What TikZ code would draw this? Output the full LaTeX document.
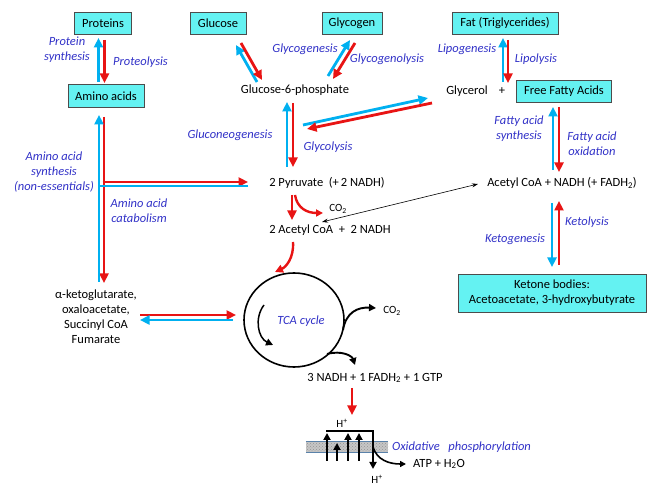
\documentclass[tikz,border=0pt]{standalone}
\usepackage{fontspec}
\setmainfont{Carlito}
\usetikzlibrary{arrows.meta,calc,shapes.geometric,patterns}
\definecolor{boxfill}{RGB}{100,242,242}
\definecolor{arrblue}{RGB}{0,176,240}
\definecolor{arrred}{RGB}{232,20,20}
\definecolor{lblblue}{RGB}{50,50,200}
\definecolor{memline}{RGB}{90,130,170}
\begin{document}
\begin{tikzpicture}[x=1pt,y=-1pt,
  txt/.style={font=\fontsize{12.5}{15}\selectfont, inner sep=0, align=center},
  box/.style={txt, draw=black!70, fill=boxfill, line width=0.9pt, minimum height=22},
  lbl/.style={txt, text=lblblue, font=\fontsize{12.5}{14.8}\selectfont\itshape},
  smalltxt/.style={txt, font=\fontsize{11}{13}\selectfont},
  thickarrow/.style={line width=2.8pt, -{Triangle[length=9.5pt,width=9pt]}},
  barr/.style={thickarrow, draw=arrblue},
  rarr/.style={thickarrow, draw=arrred},
  karr/.style={line width=1.9pt, -{Triangle[length=7pt,width=7pt]}},
]
\fill[white] (0,0) rectangle (649,502);
\useasboundingbox (0,0) rectangle (649,502);

% boxes
\node[box, minimum width=57] (prot) at (103,23) {Proteins};
\node[box, minimum width=56] (gluc) at (218,23) {Glucose};
\node[box, minimum width=60] (glyc) at (352,23) {Glycogen};
\node[box, minimum width=106] (fat) at (505,23) {Fat (Triglycerides)};
\node[box, minimum width=76, minimum height=23] (amino) at (106,96) {Amino acids};
\node[box, minimum width=95] (ffa) at (564,91) {Free Fatty Acids};
\node[box, minimum width=188, minimum height=38] (ket) at (552,293) {Ketone bodies:\\Acetoacetate, 3-hydroxybutyrate};

% plain texts
\node[txt] (g6p) at (295,90) {Glucose-6-phosphate};
\node[txt] (glycerol) at (467,91) {Glycerol};
\node[txt] (plus) at (502,91) {+};
\node[txt] (pyr) at (327,183) {2 Pyruvate\ \ (+\,2 NADH)};
\node[txt] (acoa) at (562,183) {Acetyl CoA + NADH (+ FADH\textsubscript{2})};
\node[smalltxt] (co2a) at (338,209) {CO\textsubscript{2}};
\node[txt] (acetyl) at (330,230) {2 Acetyl CoA\ \ +\ \ 2 NADH};
\node[txt] (akg) at (96,317) {α-ketoglutarate,\\oxaloacetate,\\Succinyl CoA\\Fumarate};
\node[draw, ellipse, minimum width=100, minimum height=94, line width=1.6pt, inner sep=0] (tca) at (294,320) {};
\node[smalltxt] (co2b) at (392,311) {CO\textsubscript{2}};
\node[txt] (nadh3) at (375,378) {3 NADH + 1 FADH\textsubscript{2} + 1 GTP};
\node[smalltxt] (h1) at (342,423) {H\textsuperscript{+}};
\node[smalltxt] (h2) at (377,479) {H\textsuperscript{+}};
\node[txt] (atp) at (439,464) {ATP + H\textsubscript{2}O};

% labels
\node[lbl] (lps) at (67,50) {Protein\\synthesis};
\node[lbl, anchor=west] (lpl) at (113,62) {Proteolysis};
\node[lbl] (lgg) at (305,49) {Glycogenesis};
\node[lbl] (lgl) at (387,59) {Glycogenolysis};
\node[lbl] (lgn) at (230,135) {Gluconeogenesis};
\node[lbl] (lgy) at (328,147) {Glycolysis};
\node[lbl] (llg) at (467,49) {Lipogenesis};
\node[lbl] (lll) at (536,59) {Lipolysis};
\node[lbl] (lfs) at (519,129) {Fatty acid\\synthesis};
\node[lbl] (lfo) at (592,144) {Fatty acid\\oxidation};
\node[lbl] (las) at (54,172) {Amino acid\\synthesis\\(non-essentials)};
\node[lbl] (lac) at (139,211) {Amino acid\\catabolism};
\node[lbl] (lkl) at (587,222) {Ketolysis};
\node[lbl] (lkg) at (515,239) {Ketogenesis};
\node[lbl] (ltca) at (301,321) {TCA cycle};
\node[lbl, anchor=west] (lox) at (392,447) {Oxidative\ \ \ phosphorylation};

% proteins / amino acids
\draw[barr] ($(amino)+(-7.5,-14)$) -- ($(prot)+(-4.5,15)$);
\draw[rarr] ($(prot)+(1.5,17)$) -- ($(amino)+(-1.5,-13)$);
% glucose
\draw[barr] ($(g6p)+(-38,-8)$) -- ($(gluc)+(18,22)$);
\draw[rarr] ($(gluc)+(23,20)$) -- ($(g6p)+(-33,-10)$);
% glycogen
\draw[barr] ($(g6p)+(33,-14)$) -- ($(glyc)+(-2,17)$);
\draw[rarr] ($(glyc)+(3,20)$) -- ($(g6p)+(38,-11)$);
% g6p / pyruvate
\draw[barr] ($(pyr)+(-40,-16)$) -- ($(g6p)+(-8,12)$);
\draw[rarr] ($(g6p)+(-2,13)$) -- ($(pyr)+(-34,-16)$);
% glycerol
\draw[barr] ($(g6p)+(8,35)$) -- ($(glycerol)+(-39,7)$);
\draw[rarr] ($(glycerol)+(-35,12)$) -- ($(g6p)+(12,39)$);
% fat
\draw[barr] ($(plus)+(1,-9)$) -- ($(fat)+(-2,15)$);
\draw[rarr] ($(fat)+(3,17)$) -- ($(plus)+(6,-8)$);
% ffa / acetyl coa
\draw[barr] ($(acoa)+(-9,-13)$) -- ($(ffa)+(-11,16)$);
\draw[rarr] ($(ffa)+(-5,16)$) -- ($(acoa)+(-3,-11)$);
% ketone
\draw[barr] ($(acoa)+(-10,20)$) -- ($(ket)+(0,-26)$);
\draw[rarr] ($(ket)+(7,-28)$) -- ($(acoa)+(-3,18)$);
% amino acids / pyruvate / akg
\draw[rarr] ($(amino)+(-2,21)$) -- ($(akg)+(8,-34)$);
\draw[rarr] ($(amino)+(-3.4,86)$) -- ($(pyr)+(-79,-1)$);
\draw[line width=2.8pt, draw=arrblue] ($(pyr)+(-79,3)$) -- ($(amino)+(-8.4,90)$);
\draw[barr] ($(akg)+(3,-35)$) -- ($(amino)+(-7,19)$);
% akg / tca
\draw[rarr] ($(akg)+(44,-2)$) -- ($(tca)+(-58,-5)$);
\draw[barr] ($(tca)+(-61,0)$) -- ($(akg)+(44,3)$);
% pyruvate -> acetyl CoA
\draw[rarr] ($(pyr)+(-35,12)$) -- ($(acetyl)+(-38,-10)$);
\draw[draw=arrred, line width=2.4pt, -{Triangle[length=7pt,width=7pt]}] ($(pyr)+(-32,12)$) .. controls ($(pyr)+(-30,25)$) and ($(pyr)+(-20,30)$) .. ($(co2a)+(-15,4)$);
\draw[line width=0.6pt, {Stealth[length=6pt,width=4pt]}-{Stealth[length=6pt,width=4pt]}] ($(acetyl)+(-8,-8)$) -- ($(acoa)+(-84,1)$);
\draw[draw=arrred, line width=2.4pt, -{Triangle[length=8pt,width=8pt]}] ($(acetyl)+(-37,12)$) .. controls ($(acetyl)+(-36,28)$) and ($(acetyl)+(-44,37)$) .. ($(tca)+(-19,-48)$);
% tca arrows
\draw[karr] ($(tca)+(49,10)$) .. controls ($(tca)+(52,-8)$) and ($(tca)+(64,-13)$) .. ($(co2b)+(-16,-3)$);
\draw[karr] ($(tca)+(33,34)$) .. controls ($(tca)+(48,30)$) and ($(tca)+(58,36)$) .. ($(nadh3)+(-20,-13)$);
\draw[karr, line width=1.5pt] ($(tca)+(-30,-15)$) .. controls ($(tca)+(-40,-2)$) and ($(tca)+(-36,18)$) .. ($(tca)+(-21,25)$);
% oxidative phosphorylation
\draw[rarr] ($(nadh3)+(-23,10)$) -- ($(h1)+(10,-8)$);
\node[minimum width=82, minimum height=10, inner sep=0, fill=gray!45, postaction={pattern=crosshatch dots, pattern color=gray!85}] (mem) at (347,447) {};
\draw[memline, line width=0.7pt] (mem.north west) -- (mem.north east) (mem.south west) -- (mem.south east);
\draw[karr] ($(mem)+(-20,14)$) -- ($(mem)+(-20,-14)$);
\draw[karr] ($(mem)+(-10,14)$) -- ($(mem)+(-10,-4)$);
\draw[karr] ($(mem)+(1,14)$) -- ($(mem)+(1,-14)$);
\draw[karr] ($(mem)+(12,14)$) -- ($(mem)+(12,-14)$);
\draw[karr, line join=miter] ($(mem)+(-20.95,-16)$) -- ($(mem)+(26,-16)$) -- ($(h2)+(-4,-10)$);
\draw[line width=1.6pt, -{Triangle[length=6pt,width=6pt]}] ($(mem)+(26,0)$) .. controls ($(mem)+(30,13)$) and ($(mem)+(42,17)$) .. ($(atp)+(-33,0)$);
\end{tikzpicture}
\end{document}
